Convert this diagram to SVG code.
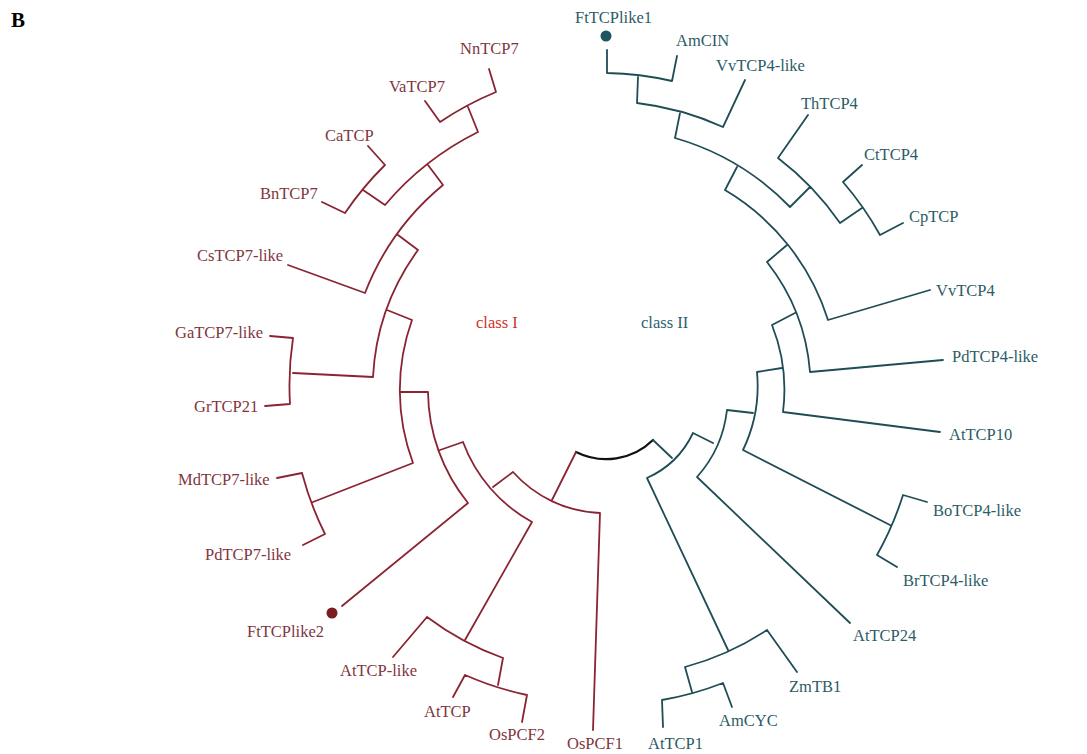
<svg xmlns="http://www.w3.org/2000/svg" width="1087" height="754" viewBox="0 0 1087 754">
<style>
text{font-family:"Liberation Serif","Times New Roman",serif;font-size:16.5px}
.l1{fill:#7f3641}
.l2{fill:#2c5c66}
.b1{fill:none;stroke:#8a2432;stroke-width:1.8;stroke-linecap:round;stroke-linejoin:round}
.b2{fill:none;stroke:#1f4d56;stroke-width:1.8;stroke-linecap:round;stroke-linejoin:round}
.b0{fill:none;stroke:#111;stroke-width:2.2;stroke-linecap:round}
</style>
<rect width="1087" height="754" fill="#fff"/>
<text x="11" y="27" style="font-weight:bold;font-size:21px" fill="#000">B</text>
<g id="connectors">
<path class="b0" d="M576,452 A67,67 0 0 0 653,440"/>
<path id="classI-branches" class="b1" d="M576,452 L552,500
M513,472 A123,123 0 0 0 600,513 M600,513 L593,730 M513,472 L493,487
M463,442 A151,151 0 0 0 532,522 M463,442 L440,450
M428,392 A179,179 0 0 0 468,503 M468,503 L342,606 M428,392 L400,392
M412,320 A208,208 0 0 0 413,463 M413,463 L313,502
M302,473 A316,316 0 0 0 325,534 M302,473 L277,478 M325,534 L303,545
M412,320 L387,310
M418,250 A236,236 0 0 0 373,377 M373,377 L293,373
M293,338 A316,316 0 0 0 290,404 M293,338 L270,336 M290,404 L265,406
M418,250 L398,235
M443,185 A263,263 0 0 0 365,293 M365,293 L288,265
M443,185 L428,165
M478,132 A291,291 0 0 0 385,205 M478,132 L468,107
M496,92 A318,318 0 0 0 440,122 M496,92 L489,69 M440,122 L425,101
M385,205 L363,190
M385,165 A318,318 0 0 0 345,213 M385,165 L368,146 M345,213 L322,202
M532,522 L465,640
M427,617 A288,288 0 0 0 503,658 M427,617 L393,657 M503,658 L498,685
M465,675 A315,315 0 0 0 527,695 M465,675 L453,697 M527,695 L522,722"/>
<path id="classII-branches" class="b2" d="M653,440 L672,458
M647,478 A93,93 0 0 0 693,433 M647,478 L728,650
M685,667 A285,285 0 0 0 767,630 M767,630 L797,672 M685,667 L692,692
M662,700 A313,313 0 0 0 723,683 M662,700 L663,727 M723,683 L732,707
M693,433 L713,443
M697,477 A121,121 0 0 0 727,410 M697,477 L850,623
M727,410 L753,413
M743,450 A148,148 0 0 0 757,372 M743,450 L890,525
M877,555 A313,313 0 0 0 903,495 M903,495 L927,502 M877,555 L897,567
M757,372 L782,368
M783,412 A176,176 0 0 0 772,325 M783,412 L940,432
M772,325 L795,313
M810,372 A204,204 0 0 0 767,262 M810,372 L943,360
M767,262 L787,245
M828,320 A232,232 0 0 0 725,190 M828,320 L930,290
M725,190 L737,167
M790,207 A261,261 0 0 0 675,138 M790,207 L810,187
M840,223 A288,288 0 0 0 778,158 M778,158 L808,115 M840,223 L862,208
M880,235 A314,314 0 0 0 843,182 M843,182 L862,165 M880,235 L903,223
M675,138 L680,113
M723,127 A290,290 0 0 0 637,103 M723,127 L745,80
M637,103 L638,77
M672,81 A318,318 0 0 0 607,73 M672,81 L677,56 M607,73 L607,50"/>
</g>
<g id="class-labels">
<text x="476" y="328" fill="#d0342c">class I</text>
<text x="641" y="328" fill="#2c6270">class II</text>
</g>
<g id="node-NnTCP7"><text class="l1" x="460" y="54">NnTCP7</text></g>
<g id="node-VaTCP7"><text class="l1" x="389" y="92">VaTCP7</text></g>
<g id="node-CaTCP"><text class="l1" x="325" y="141">CaTCP</text></g>
<g id="node-BnTCP7"><text class="l1" x="260" y="199">BnTCP7</text></g>
<g id="node-CsTCP7-like"><text class="l1" x="197" y="261">CsTCP7-like</text></g>
<g id="node-GaTCP7-like"><text class="l1" x="175" y="338">GaTCP7-like</text></g>
<g id="node-GrTCP21"><text class="l1" x="194" y="412">GrTCP21</text></g>
<g id="node-MdTCP7-like"><text class="l1" x="178" y="485">MdTCP7-like</text></g>
<g id="node-PdTCP7-like"><text class="l1" x="205" y="560">PdTCP7-like</text></g>
<g id="node-FtTCPlike2"><circle cx="332" cy="613" r="5.5" fill="#7a1c22"/><text class="l1" x="247" y="637">FtTCPlike2</text></g>
<g id="node-AtTCP-like"><text class="l1" x="340" y="676">AtTCP-like</text></g>
<g id="node-AtTCP"><text class="l1" x="424" y="717">AtTCP</text></g>
<g id="node-OsPCF2"><text class="l1" x="489" y="740">OsPCF2</text></g>
<g id="node-OsPCF1"><text class="l1" x="567" y="749">OsPCF1</text></g>
<g id="node-FtTCPlike1"><circle cx="606" cy="36" r="5.5" fill="#1f5560"/><text class="l2" x="575" y="23">FtTCPlike1</text></g>
<g id="node-AmCIN"><text class="l2" x="676" y="46">AmCIN</text></g>
<g id="node-VvTCP4-like"><text class="l2" x="716" y="71">VvTCP4-like</text></g>
<g id="node-ThTCP4"><text class="l2" x="801" y="109">ThTCP4</text></g>
<g id="node-CtTCP4"><text class="l2" x="864" y="160">CtTCP4</text></g>
<g id="node-CpTCP"><text class="l2" x="909" y="222">CpTCP</text></g>
<g id="node-VvTCP4"><text class="l2" x="936" y="296">VvTCP4</text></g>
<g id="node-PdTCP4-like"><text class="l2" x="952" y="362">PdTCP4-like</text></g>
<g id="node-AtTCP10"><text class="l2" x="949" y="440">AtTCP10</text></g>
<g id="node-BoTCP4-like"><text class="l2" x="933" y="516">BoTCP4-like</text></g>
<g id="node-BrTCP4-like"><text class="l2" x="903" y="586">BrTCP4-like</text></g>
<g id="node-AtTCP24"><text class="l2" x="853" y="641">AtTCP24</text></g>
<g id="node-ZmTB1"><text class="l2" x="789" y="692">ZmTB1</text></g>
<g id="node-AmCYC"><text class="l2" x="719" y="726">AmCYC</text></g>
<g id="node-AtTCP1"><text class="l2" x="648" y="749">AtTCP1</text></g>
</svg>
